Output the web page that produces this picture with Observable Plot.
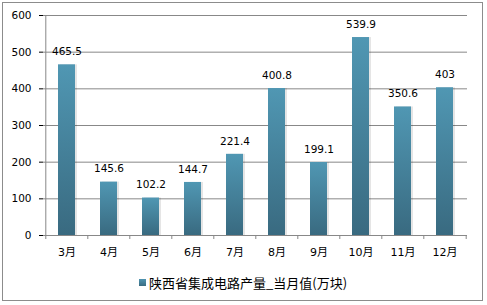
<!DOCTYPE html>
<html>
<head>
<meta charset="utf-8">
<script src="https://cdn.jsdelivr.net/npm/d3@7"></script>
<script src="https://cdn.jsdelivr.net/npm/@observablehq/plot@0.6"></script>
<style>
  html, body { margin: 0; padding: 0; background: #fff; }
  #wrap { position: relative; width: 487px; height: 305px; overflow: hidden; }
  #border { position: absolute; left: 2px; top: 2px; width: 479px; height: 297px; border: 1px solid #8c8c8c; }
  #chart { position: absolute; left: 0; top: 0; }
  #legend { position: absolute; left: 139px; top: 273px; font: 13px "Noto Sans CJK SC", sans-serif; color: #000; display: flex; align-items: center; white-space: nowrap; }
  #legend .sw { width: 7px; height: 7px; background: linear-gradient(#4f94b0, #3a6c82); margin-right: 3px; }
</style>
</head>
<body>
<div id="wrap">
  <div id="border"></div>
  <div id="chart"></div>
  <div id="legend"><span class="sw"></span><span id="legendText"></span></div>
</div>
<script>
const months = ["3月", "4月", "5月", "6月", "7月", "8月", "9月", "10月", "11月", "12月"];
const values = [465.5, 145.6, 102.2, 144.7, 221.4, 400.8, 199.1, 539.9, 350.6, 403];
const labels = ["465.5", "145.6", "102.2", "144.7", "221.4", "400.8", "199.1", "539.9", "350.6", "403"];
const yTicks = [0, 100, 200, 300, 400, 500, 600];
const seriesName = "陕西省集成电路产量_当月值(万块)";

document.getElementById("legendText").textContent = seriesName;

const data = months.map((m, i) => ({month: m, value: values[i], label: labels[i]}));

const W = 487, H = 262;
const mL = 43, mR = 20, mT = 15, mB = 27;
const step = (W - mL - mR) / months.length;
const pxPerUnit = (H - mT - mB) / 600;
const tickLen = 4 / pxPerUnit;

const chart = Plot.plot({
  width: W,
  height: H,
  marginLeft: mL,
  marginRight: mR,
  marginTop: mT,
  marginBottom: mB,
  style: {fontFamily: "'DejaVu Sans', 'Noto Sans CJK SC', sans-serif", fontSize: "10.5px", color: "#000", background: "transparent"},
  x: {domain: months, paddingInner: 0.6, paddingOuter: 0.3, label: null, tickSize: 0, tickPadding: 13},
  y: {domain: [0, 600], ticks: yTicks, label: null, tickSize: 4, tickPadding: 8, grid: false},
  marks: [
    Plot.ruleY(yTicks.filter(d => d > 0), {stroke: "#888", strokeWidth: 1}),
    Plot.ruleY([0], {stroke: "#888"}),
    Plot.ruleX(months, {x: d => d, y1: -tickLen, y2: d => d === months[0] ? 600 : 0, dx: -step / 2, stroke: "#888"}),
    Plot.ruleX([months[months.length - 1]], {x: d => d, y1: -tickLen, y2: 0, dx: step / 2, stroke: "#888"}),
    Plot.barY(data, {x: "month", y: "value", fill: "#000", fillOpacity: 0.1, dx: 2}),
    Plot.barY(data, {x: "month", y: "value", fill: "url(#barGrad)"}),
    Plot.text(data, {x: "month", y: "value", text: "label", dy: -13, fill: "#000", fontSize: 10.5})
  ]
});

const defs = d3.select(chart).insert("defs", ":first-child");
const g = defs.append("linearGradient").attr("id", "barGrad").attr("x1", 0).attr("y1", 0).attr("x2", 0).attr("y2", 1);
g.append("stop").attr("offset", "0%").attr("stop-color", "#5097b3");
g.append("stop").attr("offset", "100%").attr("stop-color", "#396a80");

d3.select(chart).selectAll("g[aria-label='x-axis tick label'] text").style("font-size", "11px");

document.getElementById("chart").appendChild(chart);
</script>
</body>
</html>
